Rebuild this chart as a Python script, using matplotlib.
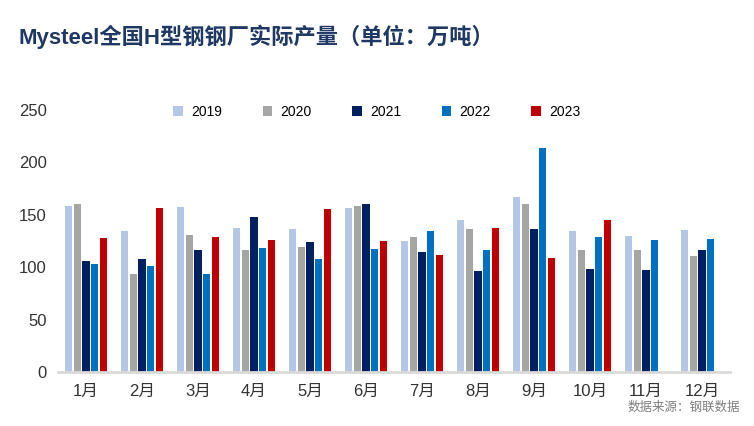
import numpy as np
import matplotlib
matplotlib.use("Agg")
import matplotlib.pyplot as plt

plt.rcParams['font.family'] = ['Liberation Sans', 'Noto Sans CJK SC', 'DejaVu Sans']

months = ['1月', '2月', '3月', '4月', '5月', '6月', '7月', '8月', '9月', '10月', '11月', '12月']
years = ['2019', '2020', '2021', '2022', '2023']
y2019 = [158, 134, 157, 137, 136, 156, 125, 145, 167, 134, 130, 135]
y2020 = [160, 93, 131, 116, 119, 158, 129, 136, 160, 116, 116, 111]
y2021 = [106, 108, 116, 148, 124, 160, 114, 96, 136, 98, 97, 116]
y2022 = [103, 101, 93, 118, 108, 117, 134, 116, 214, 129, 126, 127]
y2023 = [128, 156, 129, 126, 155, 125, 112, 137, 109, 145, np.nan, np.nan]
colors = ['#B4C7E7', '#A5A5A5', '#002060', '#0070C0', '#C00000']

series = [y2019, y2020, y2021, y2022, y2023]

fig = plt.figure(figsize=(7.54, 4.26), dpi=100)
ax = fig.add_axes([0.077, 0.127, 0.891, 0.615])

x = np.arange(len(months))
slot = 0.155
width = 0.13
for i, (vals, c, yr) in enumerate(zip(series, colors, years)):
    ax.bar(x + (i - 2) * slot, vals, width, color=c, label=yr, zorder=2)

ax.set_xlim(-0.5, 11.5)
ax.set_ylim(0, 250)
ax.set_yticks(range(0, 251, 50))
ax.set_xticks(x)
ax.set_xticklabels(months, fontsize=11.5)
for s in ['top', 'right', 'left']:
    ax.spines[s].set_visible(False)
ax.spines['bottom'].set_color('#D9D9D9')
ax.spines['bottom'].set_linewidth(2)
ax.tick_params(axis='both', length=0, labelsize=12, colors='#333333')
ax.tick_params(axis='x', pad=9)
ax.tick_params(axis='y', pad=8)

fig.legend(loc='center', bbox_to_anchor=(0.50, 0.738), ncol=5, frameon=False,
           fontsize=10, handlelength=0.7, handleheight=0.7, columnspacing=2.9,
           handletextpad=0.6)

fig.text(0.024, 0.913, 'Mysteel全国H型钢钢厂实际产量（单位：万吨）', fontsize=16,
         fontweight='bold', color='#1F3864', va='center')
fig.text(0.982, 0.042, '数据来源：钢联数据', fontsize=9, color='#7F7F7F',
         ha='right', va='center')

fig.savefig('out.png', dpi=100)
